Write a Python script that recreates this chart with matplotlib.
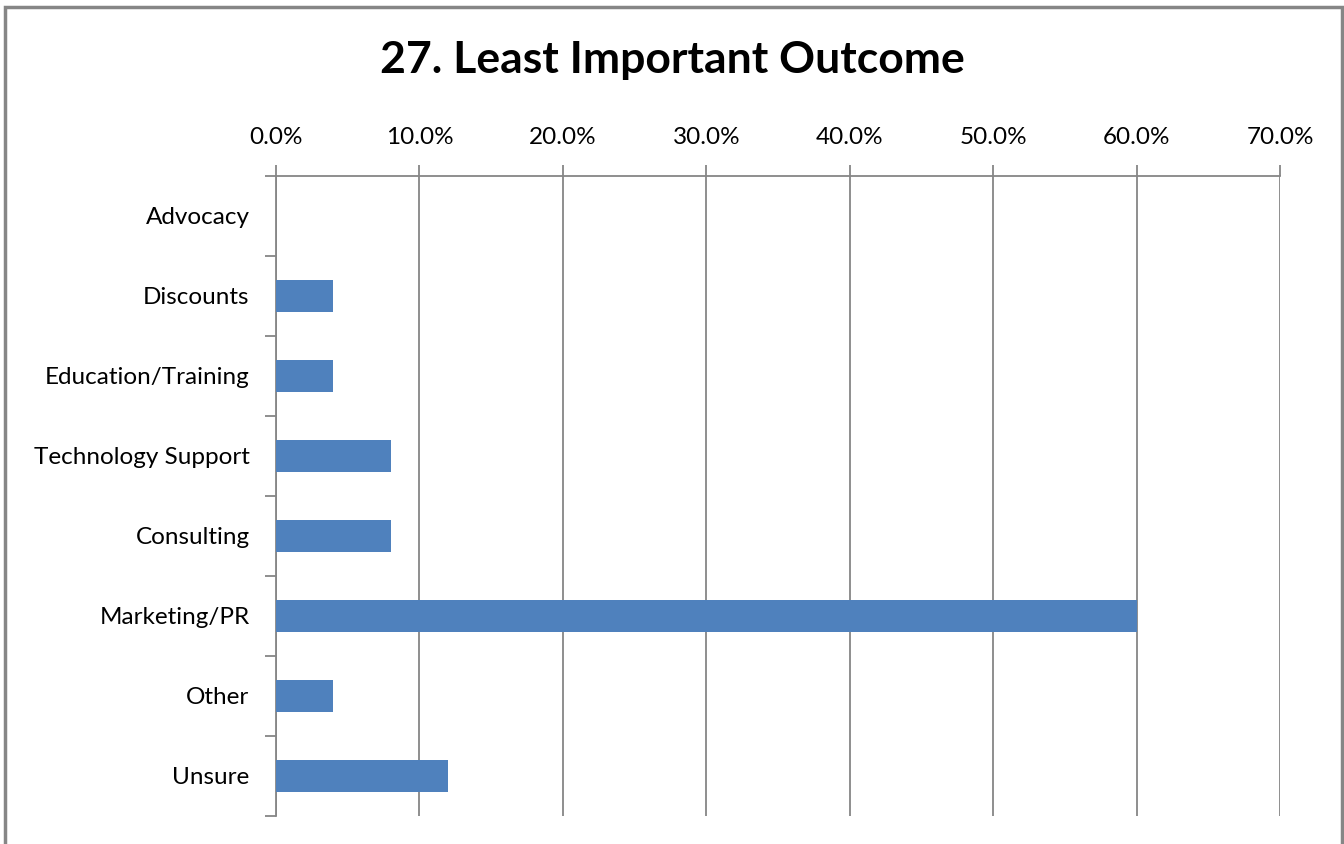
import matplotlib.pyplot as plt
from matplotlib.ticker import FuncFormatter, FixedLocator
from matplotlib.patches import Rectangle

categories = ["Advocacy", "Discounts", "Education/Training", "Technology Support",
              "Consulting", "Marketing/PR", "Other", "Unsure"]
values = [0.0, 4.0, 4.0, 8.0, 8.0, 60.0, 4.0, 12.0]
xticks = [0, 10, 20, 30, 40, 50, 60, 70]

plt.rcParams['font.family'] = ['Lato', 'DejaVu Sans']
grey = "#868686"

fig = plt.figure(figsize=(13.44, 8.44), dpi=100)
ax = fig.add_axes([276 / 1344, 1 - 816 / 844, (1280 - 276) / 1344, (816 - 176) / 844])

pos = list(range(len(categories)))
ax.barh(pos, values, height=0.4, color="#4F81BD", zorder=3)

ax.set_xlim(0, 70)
ax.set_ylim(len(categories) - 0.5, -0.5)
ax.xaxis.tick_top()
ax.set_xticks(xticks)
ax.xaxis.set_major_formatter(FuncFormatter(lambda v, p: f"{v:.1f}%"))
ax.tick_params(axis='x', length=8, width=1.3, color=grey, labelsize=17.5, pad=12)
ax.grid(axis='x', color=grey, linewidth=1.3, zorder=0)

ax.set_yticks(pos)
ax.set_yticklabels(categories)
ax.yaxis.set_minor_locator(FixedLocator([p - 0.5 for p in pos] + [len(pos) - 0.5]))
ax.tick_params(axis='y', which='major', length=0, labelsize=17.5, pad=19)
ax.tick_params(axis='y', which='minor', length=8, width=1.3, color=grey)

for s in ['right', 'bottom']:
    ax.spines[s].set_visible(False)
for s in ['top', 'left']:
    ax.spines[s].set_color(grey)
    ax.spines[s].set_linewidth(1.3)

fig.text(0.5, 1 - 60 / 844, "27. Least Important Outcome", ha='center', va='center',
         fontsize=32, fontweight='bold')

fig.patches.append(Rectangle((5 / 1344, -0.1), (1342 - 5) / 1344, 1.1 - 7 / 844,
                             transform=fig.transFigure, fill=False,
                             edgecolor=grey, linewidth=2.5))

fig.savefig("out.png", dpi=100)
